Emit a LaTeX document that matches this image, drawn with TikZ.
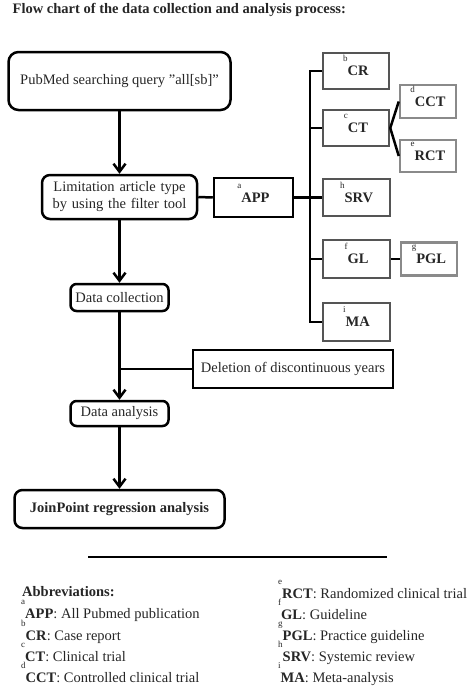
\documentclass[tikz,border=0pt]{standalone}
\usepackage{fontspec}
\setmainfont{Liberation Serif}
\usetikzlibrary{arrows.meta}
\definecolor{txt}{HTML}{262626}
\definecolor{dgray}{HTML}{555555}
\definecolor{lgray}{HTML}{8A8A8A}
\newcommand{\fs}{\fontsize{14.5}{17}\selectfont}
\newcommand{\ab}[2]{\raisebox{14pt}[0pt][0pt]{\fontsize{9}{9}\selectfont #1}\textbf{#2}}
\begin{document}
\begin{tikzpicture}[x=1pt,y=-1pt,
  every node/.style={font=\fs, text=txt},
  rbox/.style={draw=black, line width=2.5pt, rounded corners=#1, inner sep=0pt, align=center},
  rbox/.default=8pt,
  sbox/.style={draw=black, line width=2.5pt, inner sep=0pt, align=center},
  gbox/.style={draw=dgray, line width=2.5pt, inner sep=0pt, align=center},
  lbox/.style={draw=lgray, line width=2.5pt, inner sep=0pt, align=center},
  conn/.style={draw=black, line width=2.5pt},
  arr/.style={conn, -{Straight Barb[length=8pt,width=12pt]}},
  abbr/.style={anchor=base west, inner sep=0pt}
]
\useasboundingbox (0,0) rectangle (474,688);

% title
\node[abbr] (title) at (12.5,13.5) {\bfseries Flow chart of the data collection and analysis process:};

% main column
\node[rbox=10pt, minimum width=222pt, minimum height=58pt] (pub) at (119.5,81) {PubMed searching query \char34 all[sb]\char34};
\node[rbox=8pt, minimum width=155pt, minimum height=44pt, text width=150pt] (lim) at (119.5,197) {Limitation article type\\by using the filter tool};
\node[rbox=6pt, minimum width=98pt, minimum height=27pt] (dc) at (119.5,297.5) {Data collection};
\node[rbox=6pt, minimum width=98pt, minimum height=25pt] (da) at (119.5,413.5) {Data analysis};
\node[rbox=8pt, minimum width=210pt, minimum height=38pt] (jp) at (119.5,509) {\textbf{JoinPoint regression analysis}};
\node[sbox, minimum width=200pt, minimum height=38pt] (del) at (293,369) {Deletion of discontinuous years};

% APP and right column
\node[sbox, minimum width=79pt, minimum height=39pt] (app) at (253.5,197.5) {\ab{a}{APP}};
\node[gbox, minimum width=66pt, minimum height=36pt] (cr) at (356,71) {\ab{b}{CR}};
\node[gbox, minimum width=66pt, minimum height=36pt] (ct) at (356,128) {\ab{c}{CT}};
\node[lbox, minimum width=56pt, minimum height=33pt] (cct) at (428,101.5) {\ab{d}{CCT}};
\node[lbox, minimum width=56pt, minimum height=32pt] (rct) at (428,156) {\ab{e}{RCT}};
\node[gbox, minimum width=67pt, minimum height=37pt] (srv) at (356.5,197.5) {\ab{h}{SRV}};
\node[gbox, minimum width=67pt, minimum height=38pt] (gl) at (356.5,259) {\ab{f}{GL}};
\node[lbox, minimum width=56pt, minimum height=33pt] (pgl) at (429,259) {\ab{g}{PGL}};
\node[gbox, minimum width=67pt, minimum height=38pt] (ma) at (356.5,322) {\ab{i}{MA}};

% connectors main column
\draw[arr] (pub.south) -- (lim.north);
\draw[arr] (lim.south) -- (dc.north);
\draw[arr] (dc.south) -- (da.north);
\draw[arr] (da.south) -- (jp.north);
\coordinate (br) at (119.5,369);
\draw[conn] (br) -- (del.west);

% connectors right
\coordinate (tx) at (310,0);
\draw[conn] (lim.east) -- (app.west);
\draw[conn] (app.east) -- (app.east -| srv.west);
\draw[conn] (cr.west) -- (cr.west -| tx) -- (ma.west -| tx) -- (ma.west);
\draw[conn] (ct.west -| tx) -- (ct.west);
\draw[conn] (gl.west -| tx) -- (gl.west);
\draw[conn] (ct.east) -- (cct.west);
\draw[conn] (ct.east) -- (rct.west);
\draw[conn] (gl.east) -- (pgl.west);

% separator
\coordinate (sl) at (88,557);
\coordinate (sr) at (387,557);
\draw[line width=2pt] (sl) -- (sr);

% abbreviations
\node[abbr] (abh) at (22,596) {\textbf{Abbreviations:}};
\node[abbr] (a1) at (21,618.5) {\ab{a}{APP}: All Pubmed publication};
\node[abbr] (a2) at (21,640) {\ab{b}{CR}: Case report};
\node[abbr] (a3) at (21,661) {\ab{c}{CT}: Clinical trial};
\node[abbr] (a4) at (21,682) {\ab{d}{CCT}: Controlled clinical trial};
\node[abbr] (b1) at (278,598) {\ab{e}{RCT}: Randomized clinical trial};
\node[abbr] (b2) at (278,619.5) {\ab{f}{GL}: Guideline};
\node[abbr] (b3) at (278,640.5) {\ab{g}{PGL}: Practice guideline};
\node[abbr] (b4) at (278,661) {\ab{h}{SRV}: Systemic review};
\node[abbr] (b5) at (278,682) {\ab{i}{MA}: Meta-analysis};
\end{tikzpicture}
\end{document}
